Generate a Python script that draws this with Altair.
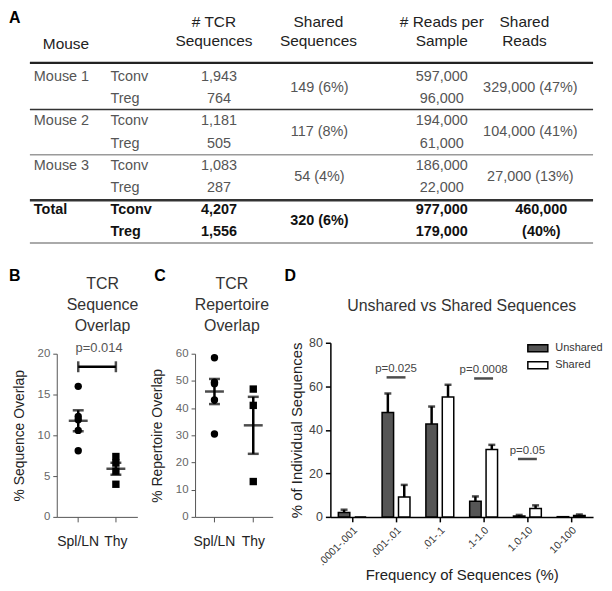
import altair as alt
import pandas as pd

FONT = "Liberation Sans"

# ---------------- Panel A : table ----------------
mouse_labels = ["Mouse 1", "Mouse 2", "Mouse 3", "Total"]
cell_types = ["Tconv", "Treg"]
tcr_sequences = ["1,943", "764", "1,181", "505", "1,083", "287", "4,207", "1,556"]
shared_sequences = ["149 (6%)", "117 (8%)", "54 (4%)", "320 (6%)"]
reads_per_sample = ["597,000", "96,000", "194,000", "61,000", "186,000", "22,000", "977,000", "179,000"]
shared_reads = ["329,000 (47%)", "104,000 (41%)", "27,000 (13%)", "460,000 (40%)"]
column_headers = [["Mouse"], ["# TCR", "Sequences"], ["Shared", "Sequences"],
                  ["# Reads per", "Sample"], ["Shared", "Reads"]]

# ---------------- Panels B / C ----------------
tissues = ["Spl/LN", "Thy"]
seq_overlap_spl = [16.0, 12.3, 11.9, 10.6, 8.1]
seq_overlap_thy = [7.4, 6.6, 5.6, 4.0]
rep_overlap_spl = [58.5, 49.5, 49.0, 43.0, 30.5]
rep_overlap_thy = [47.0, 41.0, 13.0]
seq_pvalue = ("p=0.014", 18.4)

# ---------------- Panel D ----------------
freq_bins = [".0001-.001", ".001-.01", ".01-.1", ".1-1.0", "1.0-10", "10-100"]
series_names = ["Unshared", "Shared"]
unshared_mean = [2.0, 48.0, 42.7, 7.2, 0.4, 0.1]
unshared_sem = [1.3, 8.7, 8.0, 2.2, 0.5, 0.0]
shared_mean = [0.0, 9.1, 55.1, 31.0, 3.9, 0.6]
shared_sem = [0.0, 5.6, 5.6, 2.1, 1.4, 0.5]
d_pvalue_bins = [".001-.01", ".1-1.0", "1.0-10"]
d_pvalue_text = ["p=0.025", "p=0.0008", "p=0.05"]
d_pvalue_level = [64.1, 63.6, 26.6]

PANEL_H = 175


def label_text(label, dx, dy, size=16, weight="bold", align="left", color="black"):
    return alt.Chart(pd.DataFrame({"t": [label]})).mark_text(
        font=FONT, fontSize=size, fontWeight=weight, align=align, baseline="middle", color=color
    ).encode(x=alt.value(dx), y=alt.value(dy), text="t:N")


def title_block(lines, cx, y0, lh=21):
    return [label_text(s, cx, y0 + k * lh, size=16, weight="normal", align="center", color="#333333")
            for k, s in enumerate(lines)]


# ======== TABLE ========
recs = []
for g, m in enumerate(mouse_labels):
    bold = m == "Total"
    recs.append(dict(col="mouse", text=m, row=2 * g, bold=bold))
    for k, ct in enumerate(cell_types):
        i = 2 * g + k
        recs.append(dict(col="cell", text=ct, row=i, bold=bold))
        recs.append(dict(col="tcr", text=tcr_sequences[i], row=i, bold=bold))
        recs.append(dict(col="reads", text=reads_per_sample[i], row=i, bold=bold))
    recs.append(dict(col="shared", text=shared_sequences[g], row=2 * g + 0.5, bold=bold))
    if bold:
        parts = shared_reads[g].split(" ")
        recs.append(dict(col="sreads_total", text=parts[0], row=2 * g, bold=True))
        recs.append(dict(col="sreads_total", text=parts[1], row=2 * g + 1, bold=True))
    else:
        recs.append(dict(col="sreads", text=shared_reads[g], row=2 * g + 0.5, bold=False))
tbl = pd.DataFrame(recs)

col_x = {"mouse": (-23, "left"), "cell": (54, "left"), "tcr": (163, "center"),
         "shared": (264, "center"), "reads": (387, "center"), "sreads": (476, "center"),
         "sreads_total": (487, "center")}

head_x = [(-14, "left"), (158, "center"), (263, "center"), (387, "center"), (470, "center")]
head_recs = []
for h, lines in enumerate(column_headers):
    if len(lines) == 1:
        head_recs.append(dict(h=h, text=lines[0], row=-1.47))
    else:
        head_recs.append(dict(h=h, text=lines[0], row=-2.46))
        head_recs.append(dict(h=h, text=lines[1], row=-1.60))
heads = pd.DataFrame(head_recs)

sep = pd.DataFrame({"row": [-0.637, 1.47, 3.51, 5.56, 7.48],
                    "w": [2.2, 1.5, 1.5, 2.5, 2.0],
                    "c": ["#222222", "#333333", "#9a9a9a", "#333333", "#aaaaaa"]})

tscale = alt.Scale(domain=[-3.0, 7.63], reverse=True, nice=False, zero=False)
TY = alt.Y("row:Q", scale=tscale, axis=None)

tlayers = []
tlayers.append(alt.Chart(sep).mark_rule().encode(
    y=TY, x=alt.value(-27), x2=alt.value(539),
    strokeWidth=alt.StrokeWidth("w:Q", scale=None),
    color=alt.Color("c:N", scale=None)))
for col, (xp, al) in col_x.items():
    for b in (False, True):
        sub = tbl[(tbl.col == col) & (tbl.bold == b)]
        if len(sub) == 0:
            continue
        tlayers.append(alt.Chart(sub).mark_text(
            font=FONT, fontSize=14.5, align=al, baseline="middle",
            fontWeight="bold" if b else "normal", color="#111111" if b else "#555555"
        ).encode(x=alt.value(xp), y=TY, text="text:N"))
for h, (xp, al) in enumerate(head_x):
    sub = heads[heads.h == h]
    tlayers.append(alt.Chart(sub).mark_text(
        font=FONT, fontSize=15.5, align=al, baseline="middle", color="#222222"
    ).encode(x=alt.value(xp), y=TY, text="text:N"))
tlayers.append(label_text("A", -48, 8))
table = alt.layer(*tlayers).properties(width=540, height=237)


# ======== B / C ========
def overlap_panel(spl, thy, ymax, step, ytitle, title_lines, label, width, pad_outer, title_cx, letter_dx, pval=None):
    df = pd.DataFrame({"tissue": ["Spl/LN"] * len(spl) + ["Thy"] * len(thy), "value": spl + thy})
    ysc = alt.Scale(domain=[0, ymax], range=[PANEL_H, 11], nice=False, zero=True)
    yax = alt.Axis(values=list(range(0, ymax + 1, step)), grid=False, tickSize=4, labelPadding=3,
                   labelFontSize=11.5, labelColor="#666666", domainColor="#555555", tickColor="#555555",
                   titleFontSize=14, titleFontWeight="normal", titleColor="#222222", titlePadding=11)

    def Y(f):
        return alt.Y(f, type="quantitative", scale=ysc, axis=yax, title=ytitle)

    xsc = alt.Scale(domain=tissues, paddingInner=0, paddingOuter=pad_outer)
    X = alt.X("tissue:N", scale=xsc, title=None,
              axis=alt.Axis(labelAngle=0, labelFontSize=14, labelColor="#222222", tickSize=5,
                            labelPadding=13, domainColor="#555555", tickColor="#555555"))
    base = alt.Chart(df)
    pts = base.mark_point(filled=True, size=55, opacity=1, color="black").encode(
        x=X, y=Y("value"),
        shape=alt.Shape("tissue:N", scale=alt.Scale(domain=tissues, range=["circle", "square"]), legend=None))
    stats = base.transform_aggregate(m="mean(value)", se="stderr(value)", groupby=["tissue"]).transform_calculate(
        lo="datum.m - datum.se", hi="datum.m + datum.se")
    mean_tick = stats.mark_tick(color="black", thickness=2.5, size=19).encode(x=X, y=Y("m"))
    whisk = stats.mark_rule(color="black", strokeWidth=2.5).encode(x=X, y=Y("lo"), y2=alt.Y2("hi"))
    cap_lo = stats.mark_tick(color="black", thickness=2.5, size=11).encode(x=X, y=Y("lo"))
    cap_hi = stats.mark_tick(color="black", thickness=2.5, size=11).encode(x=X, y=Y("hi"))
    layers = [pts, whisk, mean_tick, cap_lo, cap_hi]
    if pval is not None:
        ptxt, lvl = pval
        pbar = pd.DataFrame({"tissue": ["Spl/LN"], "tissue2": ["Thy"], "level": [lvl], "t": [ptxt]})
        pcap = pd.DataFrame({"tissue": tissues, "level": [lvl, lvl]})
        layers.append(alt.Chart(pbar).mark_rule(color="black", strokeWidth=2.5).encode(
            x=X, x2=alt.X2("tissue2"), y=Y("level")))
        layers.append(alt.Chart(pcap).mark_tick(color="black", thickness=2.5, size=11, orient="vertical").encode(
            x=X, y=Y("level")))
        layers.append(alt.Chart(pbar).mark_text(font=FONT, fontSize=13, color="#555555", dx=21, dy=-19,
                                                baseline="middle").encode(x=X, y=Y("level"), text="t:N"))
    layers.append(label_text(label, letter_dx, -67))
    layers += title_block(title_lines, title_cx, -59)
    return alt.layer(*layers).properties(width=width, height=PANEL_H)


panel_b = overlap_panel(seq_overlap_spl, seq_overlap_thy, 20, 5, "% Sequence Overlap",
                        ["TCR", "Sequence", "Overlap"], "B", 81, 0.07, 46, -48, seq_pvalue)
panel_c = overlap_panel(rep_overlap_spl, rep_overlap_thy, 60, 10, "% Repertoire Overlap",
                        ["TCR", "Repertoire", "Overlap"], "C", 78, 0.0, 37, -41)

# ======== D ========
drecs = []
for i, b in enumerate(freq_bins):
    drecs.append(dict(bin=b, series="Unshared", mean=unshared_mean[i], sem=unshared_sem[i]))
    drecs.append(dict(bin=b, series="Shared", mean=shared_mean[i], sem=shared_sem[i]))
ddf = pd.DataFrame(drecs)
ddf["hi"] = ddf["mean"] + ddf["sem"]

dys = alt.Scale(domain=[0, 80], nice=False)
dyax = alt.Axis(values=[0, 20, 40, 60, 80], grid=False, tickSize=5, labelPadding=3, labelFontSize=12.5,
                labelColor="#444444", domainColor="black", domainWidth=1.5, tickColor="black", tickWidth=1.5,
                titleFontSize=15, titleFontWeight="normal", titleColor="#222222", titlePadding=4)
DTITLE = "% of Individual Sequences"


def DY(f):
    return alt.Y(f, type="quantitative", scale=dys, axis=dyax, title=DTITLE)


DX = alt.X("bin:N", scale=alt.Scale(domain=freq_bins, paddingInner=0, paddingOuter=0), title="Frequency of Sequences (%)",
           axis=alt.Axis(labelAngle=315, labelFontSize=10.5, labelColor="#333333", tickSize=5, labelPadding=3,
                         domainColor="black", domainWidth=1.5, tickColor="black", tickWidth=1.5,
                         titleFontSize=15, titleFontWeight="normal", titleColor="#222222",
                         titleY=58, titleBaseline="middle"))
DXO = alt.XOffset("series:N", scale=alt.Scale(domain=series_names, paddingInner=0.3, paddingOuter=0.485))

bars = alt.Chart(ddf).mark_bar(stroke="black", strokeWidth=1.5).encode(
    x=DX, xOffset=DXO, y=DY("mean"),
    fill=alt.Fill("series:N", scale=alt.Scale(domain=series_names, range=["#555555", "#ffffff"]),
                  legend=alt.Legend(title=None, orient="none", legendX=199, legendY=-4, padding=0,
                                    symbolType="M-1.2,-0.42H1.2V0.42H-1.2Z", symbolSize=280,
                                    symbolStrokeColor="black", symbolStrokeWidth=1.5, rowPadding=0,
                                    labelFontSize=11, labelColor="#333333", labelFont=FONT, labelOffset=8)))
errd = alt.Chart(ddf).transform_filter("datum.sem > 0")
err_rule = errd.mark_rule(color="black", strokeWidth=2.5).encode(x=DX, xOffset=DXO, y=DY("mean"), y2=alt.Y2("hi"))
err_cap = errd.mark_tick(color="black", thickness=2.5, size=7, orient="horizontal").encode(x=DX, xOffset=DXO, y=DY("hi"))

pdd = pd.DataFrame({"bin": d_pvalue_bins, "t": d_pvalue_text, "level": d_pvalue_level})
p_line = alt.Chart(pdd).mark_tick(color="black", thickness=2.5, size=19, orient="horizontal").encode(x=DX, y=DY("level"))
p_text = alt.Chart(pdd).mark_text(font=FONT, fontSize=11.5, color="#444444", dy=-8, baseline="middle").encode(
    x=DX, y=DY("level"), text="t:N")

panel_d = alt.layer(bars, err_rule, err_cap, p_line, p_text, label_text("D", -46, -67),
                    *title_block(["Unshared vs Shared Sequences"], 132, -37)).properties(
    width=264, height=PANEL_H)

row = alt.hconcat(panel_b, panel_c, panel_d, spacing=58, bounds="flush").resolve_legend(fill="independent")
chart = alt.vconcat(table, row, spacing=97, bounds="flush").resolve_legend(fill="independent").properties(
    padding=0).configure(font=FONT).configure_view(stroke="transparent")

chart.save("out.html", embed_options={"renderer": "svg", "actions": False})
